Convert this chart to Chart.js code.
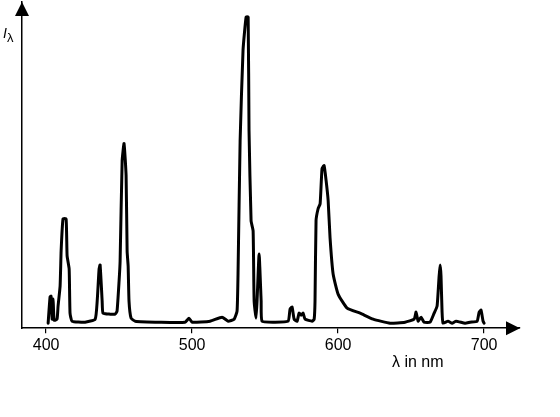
<!DOCTYPE html>
<html>
<head>
<meta charset="utf-8">
<script src="https://cdn.jsdelivr.net/npm/chart.js@4.4.1/dist/chart.umd.min.js"></script>
<style>
  html, body { margin: 0; padding: 0; background: #fff; }
  #wrap { width: 560px; height: 417px; }
</style>
</head>
<body>
<div id="wrap"><canvas id="spectrum"></canvas></div>
<script>
// wavelength in nm, intensity in arbitrary units
const wavelengths = [
  401.4, 402.7, 403.4, 404.1, 404.8, 405.5, 407.5, 408.2, 409.6, 410.3,
  411.6, 413.7, 414.4, 415.8, 416.4, 417.8, 426.7, 433.6, 435.0, 436.3,
  437.0, 438.4, 439.0, 443.8, 447.3, 448.6, 450.0, 450.7, 452.1, 453.4,
  454.8, 455.5, 456.2, 456.8, 458.2, 461.0, 478.1, 495.2, 497.9, 500.0,
  512.3, 520.5, 524.7, 528.8, 530.8, 531.5, 532.9, 534.9, 537.0, 538.4,
  539.0, 540.4, 541.8, 542.5, 543.8, 544.5, 545.9, 547.3, 547.9, 556.8,
  565.8, 567.1, 568.5, 569.9, 571.9, 573.3, 574.7, 576.0, 577.4, 582.2,
  583.6, 584.2, 584.9, 586.3, 587.7, 589.0, 590.4, 591.8, 593.2, 594.5,
  596.6, 600.0, 606.2, 615.1, 624.0, 635.6, 645.9, 652.1, 653.4, 654.8,
  656.8, 658.9, 663.0, 665.8, 667.8, 669.2, 669.9, 670.5, 671.2, 671.9,
  675.3, 678.1, 680.8, 687.0, 690.4, 695.2, 696.6, 697.9, 699.3, 700.0
];
const intensities = [
  5, 31, 32, 9, 29, 8, 9, 22, 42, 77,
  109, 109, 72, 59, 15, 7, 6, 9, 27, 59,
  63, 27, 15, 14, 14, 17, 47, 67, 167, 184,
  152, 77, 62, 27, 10, 7, 6, 6, 10, 6,
  7, 11, 7, 9, 17, 57, 187, 277, 310, 310,
  197, 107, 97, 27, 10, 27, 74, 27, 7, 6,
  7, 19, 21, 9, 7, 15, 13, 15, 9, 7,
  9, 27, 107, 119, 124, 159, 162, 147, 127, 90,
  54, 34, 20, 15, 9, 5, 6, 9, 16, 7,
  11, 6, 6, 15, 22, 52, 63, 52, 17, 5,
  7, 5, 7, 5, 6, 7, 16, 18, 7, 5
];
const xTicks = [400, 500, 600, 700];

const points = wavelengths.map((w, i) => ({ x: w, y: intensities[i] }));

// arrow heads and axis captions
const axisDecor = {
  id: 'axisDecor',
  afterDraw(chart) {
    const { ctx, chartArea } = chart;
    const l = chartArea.left, b = chartArea.bottom, r = chartArea.right, t = chartArea.top;
    ctx.save();
    ctx.fillStyle = '#000';
    // x arrow
    ctx.beginPath();
    ctx.moveTo(r, b);
    ctx.lineTo(r - 14, b - 7);
    ctx.lineTo(r - 14, b + 7);
    ctx.closePath();
    ctx.fill();
    // y arrow
    ctx.beginPath();
    ctx.moveTo(l, t);
    ctx.lineTo(l - 7, t + 14);
    ctx.lineTo(l + 7, t + 14);
    ctx.closePath();
    ctx.fill();

    ctx.textBaseline = 'alphabetic';
    ctx.textAlign = 'left';
    ctx.font = 'italic 14px "Liberation Sans", Arial, sans-serif';
    ctx.fillText('I', 3, 38);
    ctx.font = '13px "Liberation Sans", Arial, sans-serif';
    ctx.fillText('λ', 7, 42);

    ctx.font = '16px "Liberation Sans", Arial, sans-serif';
    ctx.fillText('λ in nm', 392, 367);
    ctx.restore();
  }
};

new Chart(document.getElementById('spectrum').getContext('2d'), {
  type: 'line',
  data: {
    datasets: [{
      data: points,
      borderColor: '#000',
      borderWidth: 3,
      pointRadius: 0,
      fill: false,
      tension: 0.15,
      borderJoinStyle: 'round',
      borderCapStyle: 'round'
    }]
  },
  options: {
    responsive: true,
    maintainAspectRatio: false,
    animation: false,
    layout: { padding: { left: 22, top: 2, right: 40, bottom: 58.6 } },
    plugins: {
      legend: { display: false },
      tooltip: { enabled: false }
    },
    scales: {
      x: {
        type: 'linear',
        min: 383.5,
        max: 724.6,
        afterBuildTicks: scale => { scale.ticks = xTicks.map(v => ({ value: v })); },
        grid: { display: true, drawOnChartArea: false, drawTicks: true, tickLength: 5, color: '#000', lineWidth: 1.2 },
        border: { display: true, color: '#000', width: 1.5 },
        ticks: {
          color: '#000',
          padding: 3,
          maxRotation: 0,
          font: { family: '"Liberation Sans", Arial, sans-serif', size: 16 },
          callback: v => String(v)
        }
      },
      y: {
        min: 0,
        max: 325,
        grid: { display: false, drawTicks: false },
        border: { display: true, color: '#000', width: 1.5 },
        ticks: { display: false }
      }
    }
  },
  plugins: [axisDecor]
});
</script>
</body>
</html>
